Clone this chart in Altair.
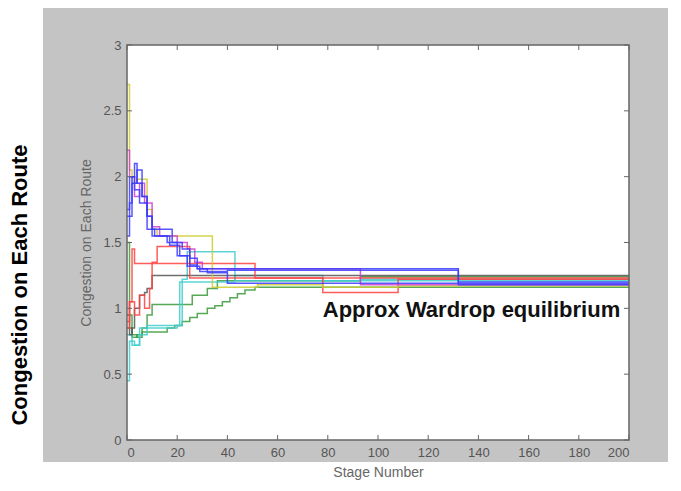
import altair as alt
import pandas as pd

# ---------------- data ----------------
x_ticks = [0, 20, 40, 60, 80, 100, 120, 140, 160, 180, 200]
y_ticks = [0, 0.5, 1, 1.5, 2, 2.5, 3]

yellow_x = [0, 1, 2, 4, 8, 10, 12, 34, 52, 78, 108, 200]
yellow_y = [2.70, 2.05, 1.95, 1.98, 1.75, 1.60, 1.55, 1.16, 1.18, 1.16, 1.17, 1.17]

blue1_x = [0, 1, 2, 3, 4, 6, 8, 10, 15, 18, 22, 25, 28, 94, 132, 200]
blue1_y = [1.55, 1.80, 2.00, 2.10, 1.95, 1.85, 1.70, 1.60, 1.60, 1.50, 1.45, 1.38, 1.30, 1.30, 1.20, 1.20]

blue2_x = [0, 2, 4, 6, 8, 10, 14, 17, 21, 25, 28, 32, 40, 200]
blue2_y = [1.70, 1.95, 2.05, 1.85, 1.70, 1.55, 1.55, 1.48, 1.40, 1.33, 1.30, 1.27, 1.19, 1.19]

blue3_x = [0, 1, 3, 5, 8, 11, 16, 20, 24, 29, 40, 132, 200]
blue3_y = [1.75, 2.00, 1.90, 1.80, 1.60, 1.55, 1.50, 1.40, 1.32, 1.28, 1.29, 1.18, 1.18]

magenta_x = [0, 1, 3, 5, 7, 10, 13, 20, 24, 27, 30, 93, 200]
magenta_y = [2.20, 2.00, 1.85, 1.95, 1.80, 1.62, 1.55, 1.50, 1.45, 1.35, 1.30, 1.18, 1.18]

red1_x = [0, 1, 2, 3, 51, 200]
red1_y = [0.85, 1.05, 1.45, 1.34, 1.23, 1.23]

red2_x = [0, 1, 3, 5, 7, 9, 10, 12, 25, 78, 108, 200]
red2_y = [0.90, 1.05, 0.95, 1.10, 1.00, 1.15, 1.35, 1.47, 1.23, 1.12, 1.22, 1.22]

cyan1_x = [0, 1, 3, 5, 20, 22, 24, 43, 200]
cyan1_y = [0.45, 0.75, 0.72, 0.85, 0.87, 1.22, 1.43, 1.21, 1.21]

cyan2_x = [0, 2, 5, 8, 19, 21, 43, 78, 93, 200]
cyan2_y = [0.80, 0.72, 0.80, 0.87, 0.87, 1.20, 1.25, 1.21, 1.22, 1.21]

green1_x = [0, 1, 2, 4, 6, 8, 10, 26, 32, 36, 93, 200]
green1_y = [1.50, 0.95, 0.80, 0.78, 0.85, 0.95, 1.03, 1.10, 1.15, 1.21, 1.24, 1.24]

green2_x = [0, 2, 4, 6, 16, 19, 22, 25, 28, 32, 35, 38, 41, 44, 47, 51, 200]
green2_y = [0.85, 0.78, 0.80, 0.82, 0.85, 0.87, 0.90, 0.93, 0.96, 1.00, 1.02, 1.05, 1.08, 1.11, 1.14, 1.16, 1.16]

black_x = [0, 1, 2, 3, 5, 7, 8, 10, 200]
black_y = [0.95, 0.80, 0.85, 1.00, 1.10, 1.12, 1.15, 1.25, 1.25]

series = [
    ("green2", green2_x, green2_y, "#3a9a3a"),
    ("green1", green1_x, green1_y, "#3a9a3a"),
    ("cyan2", cyan2_x, cyan2_y, "#40cccc"),
    ("cyan1", cyan1_x, cyan1_y, "#40cccc"),
    ("black", black_x, black_y, "#555555"),
    ("red1", red1_x, red1_y, "#ff4040"),
    ("red2", red2_x, red2_y, "#ff4040"),
    ("yellow", yellow_x, yellow_y, "#cccc30"),
    ("magenta", magenta_x, magenta_y, "#cc40cc"),
    ("blue3", blue3_x, blue3_y, "#3a3aff"),
    ("blue2", blue2_x, blue2_y, "#3a3aff"),
    ("blue1", blue1_x, blue1_y, "#3a3aff"),
]

rows = []
for i, (name, xs, ys, col) in enumerate(series):
    for xv, yv in zip(xs, ys):
        rows.append({"series": name, "order": i, "stage": xv, "value": yv})
df = pd.DataFrame(rows)

names = [s[0] for s in series]
colors = [s[3] for s in series]

W, H = 502, 395
FONT = "Liberation Sans"

xscale = alt.Scale(domain=[0, 200], nice=False, zero=False)
yscale = alt.Scale(domain=[0, 3], nice=False)

one = pd.DataFrame({"a": [0]})

gray_bg = alt.Chart(one).mark_rect(color="#c4c4c4").encode(
    x=alt.value(-84), x2=alt.value(541), y=alt.value(-37), y2=alt.value(417)
)
white_bg = alt.Chart(one).mark_rect(color="white").encode(
    x=alt.value(0), x2=alt.value(W), y=alt.value(0), y2=alt.value(H)
)

axis_common = dict(
    zindex=2, grid=False, domain=False, ticks=False,
    labelFont=FONT, labelFontSize=13, labelColor="#555555",
    titleFont=FONT, titleFontSize=14, titleFontWeight="normal", titleColor="#666666",
)

lines = alt.Chart(df).mark_line(interpolate="step-after", strokeWidth=1.5, opacity=0.85).encode(
    x=alt.X("stage:Q", scale=xscale,
            axis=alt.Axis(values=x_ticks, title="Stage Number", format="d",
                          labelPadding=6, titlePadding=6, **axis_common)),
    y=alt.Y("value:Q", scale=yscale,
            axis=alt.Axis(values=y_ticks, title="Congestion on Each Route", format="~g",
                          labelPadding=6, titlePadding=9, **axis_common)),
    color=alt.Color("series:N", scale=alt.Scale(domain=names, range=colors), legend=None),
    order="order:Q",
    detail="series:N",
)

xt = pd.DataFrame({"stage": x_ticks})
yt = pd.DataFrame({"value": y_ticks})
tick_col = "#666666"
ticks_bottom = alt.Chart(xt).mark_rule(color=tick_col).encode(
    x=alt.X("stage:Q", scale=xscale), y=alt.value(H - 5), y2=alt.value(H))
ticks_top = alt.Chart(xt).mark_rule(color=tick_col).encode(
    x=alt.X("stage:Q", scale=xscale), y=alt.value(0), y2=alt.value(5))
ticks_left = alt.Chart(yt).mark_rule(color=tick_col).encode(
    y=alt.Y("value:Q", scale=yscale), x=alt.value(0), x2=alt.value(5))
ticks_right = alt.Chart(yt).mark_rule(color=tick_col).encode(
    y=alt.Y("value:Q", scale=yscale), x=alt.value(W - 5), x2=alt.value(W))

border = alt.Chart(one).mark_rect(fill=None, stroke="#666666", strokeWidth=1.5).encode(
    x=alt.value(0), x2=alt.value(W), y=alt.value(0), y2=alt.value(H)
)

ann = pd.DataFrame({"stage": [78], "value": [0.99], "label": ["Approx Wardrop equilibrium"]})
annotation = alt.Chart(ann).mark_text(
    align="left", baseline="middle", font=FONT, fontSize=22, fontWeight="bold", color="#111111"
).encode(x=alt.X("stage:Q", scale=xscale), y=alt.Y("value:Q", scale=yscale), text="label:N")

outer = pd.DataFrame({"label": ["Congestion on Each Route"]})
outer_title = alt.Chart(outer).mark_text(
    angle=270, align="center", baseline="middle", font=FONT, fontSize=22, fontWeight="bold", color="black"
).encode(x=alt.value(-107), y=alt.value(240), text="label:N")

chart = alt.layer(
    gray_bg, white_bg, lines, ticks_bottom, ticks_top, ticks_left, ticks_right, border, annotation, outer_title
).properties(
    width=W, height=H,
    autosize=alt.AutoSizeParams(type="none"),
    padding={"left": 119, "top": 37, "right": 40, "bottom": 40},
).configure_view(stroke=None).configure(background="white")

chart.save("out.html", embed_options={"renderer": "svg", "actions": False})
